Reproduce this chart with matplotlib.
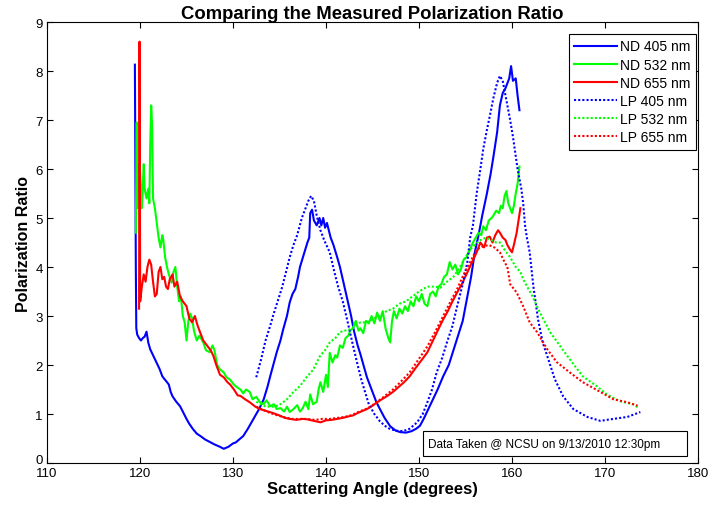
import matplotlib
matplotlib.use("Agg")
import matplotlib.pyplot as plt
from matplotlib.patches import Rectangle

plt.rcParams['font.family'] = ['Liberation Sans', 'DejaVu Sans']

# ND 405 nm (solid blue)
nd405_x = [119.45, 119.5, 119.55, 119.6, 119.7, 119.9, 120.1, 120.3, 120.5, 120.7, 120.9, 121.1, 121.4, 121.6,
           121.9, 122.1, 122.4, 122.6, 122.9, 123.1, 123.3, 123.5, 123.9, 124.3, 124.6, 125.0, 125.3, 125.7,
           126.1, 126.5, 127.0, 127.5, 128.0, 128.6, 129.0, 129.5, 130.0, 130.3, 130.6, 131.1, 131.6, 132.2,
           132.8, 133.3, 133.7, 134.0, 134.4, 134.7, 135.1, 135.4, 135.8, 136.1, 136.4, 136.7, 137.0, 137.2,
           137.6, 138.0, 138.2, 138.3, 138.5, 138.7, 139.0, 139.3, 139.5, 139.7, 139.9, 140.1, 140.3, 140.5,
           140.8, 141.2, 141.5, 141.8, 142.1, 142.4, 142.7, 143.0, 143.4, 143.7, 144.1, 144.4, 144.7, 145.0,
           145.4, 145.8, 146.3, 146.9, 147.5, 148.0, 148.6, 149.2, 149.7, 150.1, 150.5, 151.0, 151.5, 152.0,
           152.6, 153.2, 153.7, 154.2, 154.7, 155.2, 155.6, 156.0, 156.4, 156.8, 157.3, 157.7, 158.0, 158.4,
           158.7, 159.0, 159.3, 159.5, 159.7, 159.9, 160.1, 160.4, 160.6, 160.8]
nd405_y = [8.13, 6.1, 4.0, 2.75, 2.62, 2.55, 2.5, 2.55, 2.58, 2.68, 2.45, 2.32, 2.2, 2.12,
           2.0, 1.92, 1.77, 1.72, 1.65, 1.6, 1.45, 1.36, 1.25, 1.16, 1.05, 0.9, 0.8, 0.69,
           0.6, 0.55, 0.48, 0.43, 0.38, 0.33, 0.29, 0.33, 0.4, 0.42, 0.47, 0.55, 0.7, 0.9,
           1.1, 1.3, 1.55, 1.77, 2.05, 2.26, 2.5, 2.73, 3.0, 3.28, 3.45, 3.55, 3.8, 4.0,
           4.25, 4.5, 4.6, 5.1, 5.17, 4.95, 4.85, 5.0, 4.85, 5.0, 4.8, 4.9, 4.75, 4.6,
           4.45, 4.2, 4.0, 3.75, 3.5, 3.25, 3.0, 2.7, 2.4, 2.22, 1.95, 1.75, 1.6, 1.45,
           1.25, 1.1, 0.92, 0.75, 0.66, 0.63, 0.62, 0.65, 0.7, 0.76, 0.9, 1.1, 1.3, 1.5,
           1.77, 2.0, 2.3, 2.6, 2.9, 3.4, 3.8, 4.3, 4.65, 5.05, 5.5, 5.9, 6.25, 6.75,
           7.3, 7.55, 7.65, 7.75, 7.85, 8.1, 7.8, 7.85, 7.5, 7.2]

# ND 532 nm (solid green)
nd532_x = [119.55, 119.6, 119.65, 119.7, 119.8, 119.9, 120.0, 120.2, 120.4, 120.5, 120.7, 120.9, 121.0, 121.1,
           121.2, 121.3, 121.4, 121.6, 121.8, 122.0, 122.2, 122.4, 122.5, 122.7, 122.9, 123.1, 123.4, 123.6,
           123.8, 124.0, 124.2, 124.4, 124.6, 124.8, 125.0, 125.2, 125.4, 125.6, 125.8, 126.1, 126.4, 126.8,
           127.1, 127.5, 127.8, 128.0, 128.3, 128.6, 129.0, 129.3, 129.7, 130.0, 130.4, 130.8, 131.1, 131.4,
           131.8, 132.1, 132.5, 132.9, 133.3, 133.6, 134.0, 134.4, 134.7, 135.1, 135.5, 135.8, 136.1, 136.5,
           136.9, 137.2, 137.5, 137.8, 138.1, 138.3, 138.6, 139.0, 139.2, 139.4, 139.7, 140.0, 140.2, 140.4,
           140.7, 141.0, 141.2, 141.5, 141.8, 142.1, 142.4, 142.6, 142.9, 143.2, 143.5, 143.7, 144.0, 144.3,
           144.6, 144.9, 145.2, 145.5, 145.8, 146.1, 146.4, 146.7, 146.9, 147.1, 147.3, 147.6, 147.9, 148.2,
           148.5, 148.8, 149.1, 149.4, 149.7, 150.0, 150.3, 150.6, 150.9, 151.2, 151.5, 151.8, 152.1, 152.4,
           152.7, 153.0, 153.3, 153.6, 153.9, 154.2, 154.5, 154.8, 155.1, 155.5, 155.8, 156.1, 156.4, 156.7,
           156.9, 157.2, 157.5, 157.8, 158.0, 158.3, 158.6, 158.8, 159.0, 159.2, 159.4, 159.6, 159.8, 160.0,
           160.2, 160.4, 160.6, 160.8]
nd532_y = [4.7, 5.8, 6.95, 5.2, 6.1, 5.5, 6.0, 5.2, 6.1, 5.6, 5.4, 5.6, 5.3, 6.5,
           7.3, 6.9, 5.4, 5.2, 4.9, 4.6, 4.4, 4.65, 4.56, 4.2, 4.0, 3.85, 3.68, 3.9,
           4.0, 3.6, 3.3, 3.4, 3.0, 2.87, 2.5, 2.9, 3.05, 2.95, 2.7, 2.5, 2.6, 2.46,
           2.3, 2.26, 2.4, 2.3, 2.0, 1.91, 1.85, 1.75, 1.7, 1.62, 1.55, 1.5, 1.42, 1.5,
           1.45, 1.3, 1.35, 1.24, 1.2, 1.28, 1.16, 1.2, 1.1, 1.12, 1.05, 1.15, 1.04, 1.1,
           1.18, 1.05, 1.12, 1.25, 1.1, 1.4, 1.2, 1.25, 1.5, 1.65, 1.45, 1.8, 1.55, 2.25,
           2.05, 2.2, 2.15, 2.4, 2.35, 2.55, 2.6, 2.7, 2.75, 2.9, 2.7, 2.75, 2.65, 2.9,
           2.85, 3.0, 2.85, 3.07, 2.9, 3.1, 2.75, 2.55, 2.46, 2.9, 3.1, 2.95, 3.15, 3.05,
           3.2, 3.1, 3.3, 3.2, 3.4, 3.3, 3.45, 3.25, 3.2, 3.45, 3.5, 3.4, 3.6, 3.65,
           3.8, 3.85, 4.1, 3.95, 4.05, 3.85, 3.95, 4.15, 4.2, 4.36, 4.5, 4.6, 4.7, 4.65,
           4.83, 4.75, 4.95, 5.0, 5.05, 5.15, 5.1, 5.25, 5.2, 5.45, 5.55, 5.3, 5.2, 5.1,
           5.25, 5.5, 5.7, 6.05]

# ND 655 nm (solid red)
nd655_x = [119.9, 119.95, 120.02, 120.2, 120.4, 120.6, 120.8, 121.0, 121.2, 121.4, 121.6, 121.8, 122.0, 122.2,
           122.4, 122.6, 122.8, 123.0, 123.2, 123.5, 123.7, 124.0, 124.3, 124.6, 125.0, 125.3, 125.6, 125.9,
           126.2, 126.5, 126.8, 127.2, 127.6, 127.9, 128.2, 128.6, 129.0, 129.4, 129.7, 130.1, 130.5, 130.8,
           131.3, 131.8, 132.4, 132.9, 133.6, 134.3, 135.0, 135.6, 136.1, 136.8, 137.5, 138.0, 138.7, 139.4,
           140.0, 140.6, 141.2, 141.8, 142.4, 142.9, 143.4, 143.9, 144.4, 145.0, 145.5, 146.0, 146.6, 147.2,
           147.8, 148.4, 149.0, 149.6, 150.2, 150.9, 151.5, 152.0, 152.6, 153.1, 153.6, 154.1, 154.6, 155.2,
           155.7, 156.2, 156.6, 157.0, 157.3, 157.6, 157.9, 158.2, 158.5, 158.7, 159.0, 159.3, 159.5, 159.8,
           160.0, 160.2, 160.5, 160.7, 160.9]
nd655_y = [3.15, 8.6, 3.3, 3.6, 3.85, 3.7, 4.0, 4.15, 4.05, 3.7, 3.4, 3.45, 3.9, 4.0,
           3.75, 3.8, 3.6, 3.55, 3.75, 3.85, 3.6, 3.7, 3.4, 3.3, 3.2, 2.95, 2.87, 3.0,
           2.8, 2.65, 2.5, 2.4, 2.3, 2.18, 2.0, 1.8, 1.75, 1.65, 1.6, 1.5, 1.38, 1.37,
           1.3, 1.24, 1.15, 1.1, 1.06, 1.02, 0.97, 0.92, 0.9, 0.88, 0.9, 0.89, 0.86, 0.83,
           0.87, 0.88, 0.9, 0.92, 0.95, 0.97, 1.02, 1.06, 1.1, 1.17, 1.24, 1.3, 1.37, 1.45,
           1.55, 1.65, 1.77, 1.93, 2.08, 2.26, 2.5, 2.7, 2.93, 3.1, 3.3, 3.48, 3.65, 3.89,
           4.1, 4.3, 4.5, 4.4, 4.6, 4.62, 4.5, 4.65, 4.75, 4.7, 4.6, 4.55, 4.45, 4.35,
           4.3, 4.45, 4.7, 4.95, 5.2]

# LP 405 nm (dotted blue)
lp405_x = [132.5, 133.0, 133.5, 134.0, 134.3, 134.8, 135.3, 135.7, 136.1, 136.5, 136.9, 137.4, 137.8, 138.1,
           138.4, 138.7, 139.0, 139.4, 139.8, 140.4, 140.9, 141.3, 141.8, 142.3, 142.9, 143.4, 143.8, 144.2,
           144.6, 145.2, 145.8, 146.4, 146.9, 147.6, 148.3, 149.0, 149.8, 150.4, 150.9, 151.4, 151.9, 152.5,
           153.0, 153.6, 154.1, 154.7, 155.2, 155.5, 155.8, 156.2, 156.6, 156.9, 157.3, 157.6, 158.0, 158.4,
           158.7, 159.0, 159.2, 159.5, 159.8, 160.1, 160.6, 161.0, 161.2, 161.4, 161.6, 161.9, 162.3, 162.8,
           163.3, 163.9, 164.6, 165.5, 166.6, 168.1, 169.5, 170.9, 172.4, 173.8]
lp405_y = [1.75, 2.1, 2.5, 2.8, 3.0, 3.3, 3.6, 3.9, 4.2, 4.45, 4.65, 5.0, 5.2, 5.35,
           5.45, 5.35, 5.05, 4.75, 4.55, 4.3, 3.9, 3.6, 3.3, 2.9, 2.4, 2.0, 1.7, 1.45,
           1.2, 1.0, 0.85, 0.75, 0.69, 0.66, 0.65, 0.7, 0.83, 1.0, 1.24, 1.5, 1.85, 2.15,
           2.46, 2.8, 3.2, 3.65, 4.1, 4.6, 4.85, 5.5, 6.0, 6.4, 6.8, 7.07, 7.45, 7.76,
           7.9, 7.8, 7.6, 7.3, 7.0, 6.66, 6.0, 5.6, 5.3, 4.85, 4.6, 4.3, 3.6, 2.93,
           2.46, 2.12, 1.71, 1.36, 1.1, 0.94, 0.86, 0.9, 0.94, 1.04]

# LP 532 nm (dotted green)
lp532_x = [132.5, 133.5, 134.5, 135.1, 135.8, 136.5, 137.2, 137.9, 138.6, 139.0, 139.4, 139.9, 140.4, 141.0,
           141.5, 142.0, 142.6, 143.2, 143.7, 144.4, 145.1, 145.8, 146.5, 147.2, 147.9, 148.6, 149.3, 150.0,
           150.9, 151.6, 152.3, 153.0, 153.7, 154.4, 155.0, 155.5, 156.0, 156.6, 157.2, 157.8, 158.3, 158.7,
           159.2, 159.8, 160.4, 160.9, 161.2, 162.2, 163.0, 164.1, 165.2, 166.2, 167.6, 169.1, 170.2, 171.6,
           173.0, 173.5]
lp532_y = [1.25, 1.15, 1.15, 1.2, 1.3, 1.45, 1.57, 1.75, 1.9, 2.05, 2.2, 2.3, 2.46, 2.55,
           2.67, 2.7, 2.73, 2.8, 2.87, 2.87, 2.95, 3.0, 3.1, 3.15, 3.25, 3.3, 3.4, 3.5,
           3.6, 3.6, 3.58, 3.7, 3.8, 4.0, 4.2, 4.36, 4.45, 4.55, 4.6, 4.55, 4.5, 4.5,
           4.35, 4.2, 4.0, 3.9, 3.75, 3.4, 3.07, 2.67, 2.38, 2.12, 1.77, 1.57, 1.4, 1.26,
           1.2, 1.14]

# LP 655 nm (dotted red)
lp655_x = [132.5, 133.3, 134.0, 134.8, 135.6, 136.4, 137.2, 138.0, 138.8, 139.6, 140.4, 141.2, 142.0, 142.8,
           143.7, 144.5, 145.3, 146.2, 147.2, 148.1, 149.0, 149.9, 150.9, 151.8, 152.6, 153.4, 154.1, 154.8,
           155.5, 156.2, 156.9, 157.5, 158.1, 158.7, 159.2, 159.5, 159.8, 160.5, 161.2, 161.9, 162.7, 163.8,
           164.8, 166.2, 167.6, 169.5, 170.9, 172.4, 173.5]
lp655_y = [1.15, 1.08, 1.02, 0.97, 0.93, 0.9, 0.9, 0.9, 0.88, 0.9, 0.9, 0.92, 0.94, 0.98,
           1.06, 1.12, 1.22, 1.35, 1.5, 1.67, 1.85, 2.1, 2.38, 2.7, 3.0, 3.3, 3.55, 3.85,
           4.1, 4.36, 4.42, 4.45, 4.4, 4.3, 4.1, 4.0, 3.65, 3.48, 3.2, 2.87, 2.67, 2.32,
           2.06, 1.85, 1.65, 1.45, 1.3, 1.24, 1.17]

fig = plt.figure(figsize=(7.09, 5.06), dpi=100)
ax = fig.add_axes([0.0663, 0.083, 0.9182, 0.8715])

dot = (0, (1, 1))
ax.plot(nd405_x, nd405_y, color=(0, 0, 1), lw=1.5, label="ND 405 nm")
ax.plot(nd532_x, nd532_y, color=(0, 1, 0), lw=1.5, label="ND 532 nm")
ax.plot(nd655_x, nd655_y, color=(1, 0, 0), lw=1.5, label="ND 655 nm")
ax.plot(lp405_x, lp405_y, color=(0, 0, 1), lw=1.5, ls=dot, label="LP 405 nm")
ax.plot(lp532_x, lp532_y, color=(0, 1, 0), lw=1.5, ls=dot, label="LP 532 nm")
ax.plot(lp655_x, lp655_y, color=(1, 0, 0), lw=1.5, ls=dot, label="LP 655 nm")

ax.set_xlim(110, 180)
ax.set_ylim(0, 9)
ax.set_xticks(range(110, 181, 10))
ax.set_yticks(range(0, 10))
ax.tick_params(direction="in", top=True, right=True, length=4, labelsize=9.5, pad=3)
# MATLAB puts the "0" just above the "110"
ax.get_yticklabels()[0].set_verticalalignment("baseline")

ax.set_title("Comparing the Measured Polarization Ratio", fontsize=13.3, fontweight="bold", pad=3)
ax.set_xlabel("Scattering Angle (degrees)", fontsize=12, fontweight="bold", labelpad=1)
ax.set_ylabel("Polarization Ratio", fontsize=11.5, fontweight="bold", labelpad=3)

leg = ax.legend(loc="upper right", bbox_to_anchor=(0.997, 0.973), borderaxespad=0,
                fontsize=10, handlelength=3.1, handletextpad=0.2, labelspacing=0.3,
                fancybox=False, framealpha=1, edgecolor="black", borderpad=0.4)
leg.get_frame().set_linewidth(0.8)

# annotation box at bottom right
ax.add_patch(Rectangle((0.5776, 0.016), 0.4055, 0.0566, transform=ax.transAxes,
                       facecolor="white", edgecolor="black", lw=0.8, zorder=5))
ax.text(0.585, 0.044, "Data Taken @ NCSU on 9/13/2010 12:30pm", transform=ax.transAxes,
        fontsize=8.5, va="center", ha="left", zorder=6)

fig.savefig("out.png", dpi=100)
